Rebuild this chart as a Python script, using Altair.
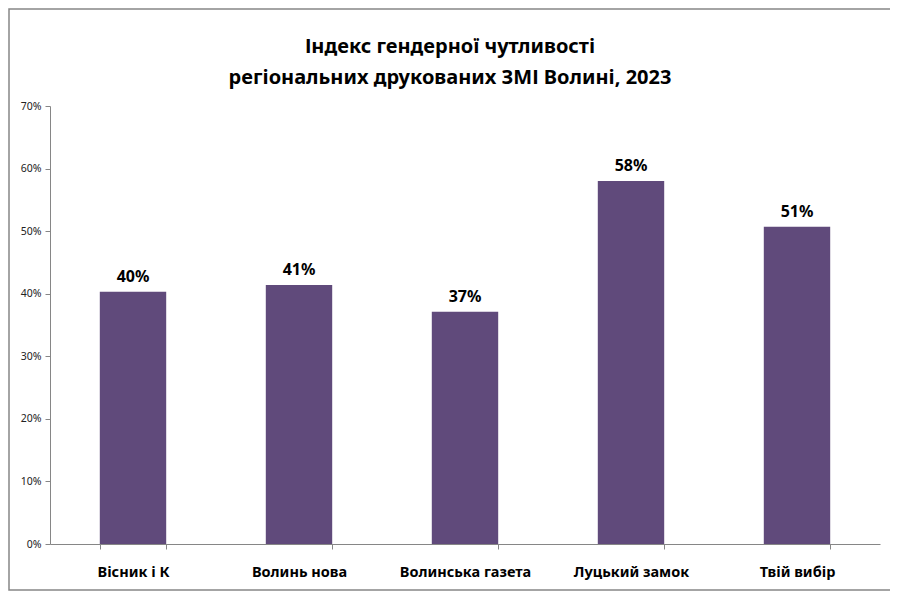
import altair as alt
import pandas as pd

title_lines = ["Індекс гендерної чутливості", "регіональних друкованих ЗМІ Волині, 2023"]
categories = ["Вісник і К", "Волинь нова", "Волинська газета", "Луцький замок", "Твій вибір"]
values = [0.403, 0.414, 0.371, 0.580, 0.507]
y_ticks = [0, 0.1, 0.2, 0.3, 0.4, 0.5, 0.6, 0.7]

df = pd.DataFrame({"cat": categories, "val": values})

FONT = "Noto Sans"

x = alt.X("cat:N", sort=categories, title=None,
          scale=alt.Scale(paddingInner=0.6, paddingOuter=0.3),
          axis=alt.Axis(labelAngle=0, labelFont=FONT, labelFontSize=14.5, labelFontWeight="bold",
                        labelColor="#000000", labelPadding=16, tickBand="extent",
                        tickSize=5, tickColor="#868686", domainColor="#868686"))
y = alt.Y("val:Q", title=None,
          scale=alt.Scale(domain=[0, 0.7], nice=False),
          axis=alt.Axis(format=".0%", values=y_ticks, labelFont=FONT, labelFontSize=10.5,
                        labelColor="#222222", tickSize=5, tickColor="#868686",
                        domainColor="#868686", grid=False, labelPadding=4))

bars = alt.Chart(df).mark_bar(color="#604A7B").encode(x=x, y=y)
labels = alt.Chart(df).mark_text(font=FONT, fontSize=16, fontWeight="bold", color="#000000",
                                 baseline="bottom", dy=-7).encode(
    x=alt.X("cat:N", sort=categories), y="val:Q", text=alt.Text("val:Q", format=".0%"))

border = alt.Chart(pd.DataFrame({"a": [0]})).mark_rect(
    fill=None, stroke="#868686", strokeWidth=1.5).encode(
    x=alt.value(-41), x2=alt.value(846), y=alt.value(-97), y2=alt.value(484))

t1 = alt.Chart(pd.DataFrame({"t": [title_lines[0]]})).mark_text(
    font=FONT, fontSize=20, fontWeight="bold", color="#000000", baseline="middle", align="center").encode(
    text="t:N", x=alt.value(400), y=alt.value(-59))
t2 = alt.Chart(pd.DataFrame({"t": [title_lines[1]]})).mark_text(
    font=FONT, fontSize=20, fontWeight="bold", color="#000000", baseline="middle", align="center").encode(
    text="t:N", x=alt.value(400), y=alt.value(-28))

chart = alt.layer(border, bars, labels, t1, t2).properties(
    width=830, height=438,
    padding={"left": 42, "top": 98, "right": 10, "bottom": 50},
    autosize=alt.AutoSizeParams(type="none"),
).configure_view(stroke=None)

chart.save("out.html", embed_options={"renderer": "svg", "actions": False})
